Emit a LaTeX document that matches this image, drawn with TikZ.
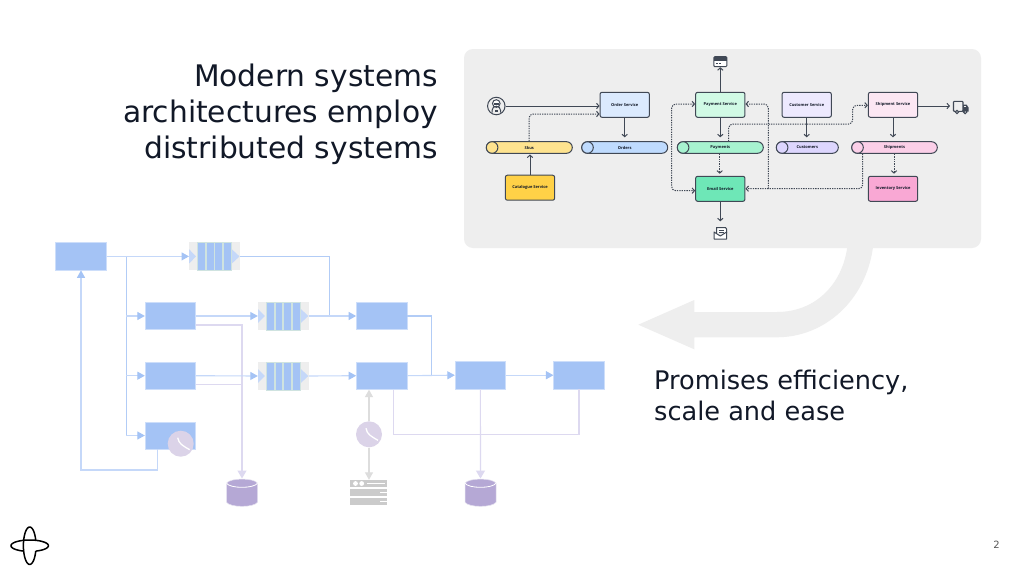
\documentclass[tikz,border=0pt]{standalone}
\usepackage{fontspec}
\setmainfont{DejaVu Sans}
\newfontfamily\smallfont{Open Sans}
\usetikzlibrary{arrows.meta,calc}
\definecolor{panel}{HTML}{EEEEEE}
\definecolor{ink}{HTML}{111827}
\definecolor{edge}{HTML}{404855}
\definecolor{lb}{HTML}{A4C3F5}
\definecolor{lbl}{HTML}{C5D8F9}
\definecolor{lav}{HTML}{DDD9F0}
\definecolor{cyl}{HTML}{B5A8D5}
\definecolor{clk}{HTML}{DBD3E8}
\definecolor{gr}{HTML}{DDDDDD}
\definecolor{srv}{HTML}{CBCBCB}
\definecolor{stripe}{HTML}{CFE3E0}
\tikzset{
  x=1pt,y=-1pt,
  svc/.style={draw=edge,line width=1pt,rounded corners=2pt,minimum width=49.3pt,minimum height=25pt,inner sep=0pt,font=\smallfont\bfseries\fontsize{4}{4}\selectfont,text=ink},
  cylb/.style={draw=edge,line width=1pt,rounded corners=5.8pt,minimum height=11.6pt,inner sep=0pt,font=\smallfont\bfseries\fontsize{4}{4}\selectfont,text=ink},
  solidc/.style={draw=edge,line width=1pt,-{Straight Barb[length=2.4pt,width=5.4pt]}},
  dashc/.style={draw=edge,line width=1pt,dash pattern=on 1.3pt off 1.1pt,rounded corners=4pt,-{Straight Barb[length=2.4pt,width=5.4pt]}},
  lowbox/.style={fill=lb,draw=lb!55,line width=0.5pt,minimum width=50.6pt,minimum height=27.4pt,inner sep=0pt},
  bluec/.style={draw=lbl,line width=1.1pt,-{Triangle[length=7.5pt,width=8pt,color=lb]}},
  blued/.style={draw=lb!85,line width=1.1pt},
  lavc/.style={draw=lav,line width=1.1pt},
  lavt/.style={draw=lav,line width=1.1pt,-{Triangle[length=8pt,width=9pt]}},
  grayc/.style={draw=gr,line width=1.2pt,-{Triangle[length=7.5pt,width=8pt]}},
  qbox/.style={minimum width=50.6pt,minimum height=28pt,inner sep=0pt,fill=panel},
}
% name, x0, x1, y centre, fill, cap fill, label
\newcommand{\cylnode}[7]{%
  \node[cylb,fill=#5,minimum width=#3pt-#2pt] (#1) at ({(#2+#3)/2},#4) {#7};
  \node[circle,draw=edge,line width=1pt,fill=#6,minimum size=11.6pt,inner sep=0pt] (#1cap) at ({#2+5.8},#4) {};
}
% name, centre x, y
\newcommand{\queuenode}[3]{%
  \node[qbox] (#1) at (#2,#3) {};
  \foreach \dx in {-13.3,-4.6,4,12.6}{\fill[fill=lb,draw=stripe,line width=0.3pt] ({#2+\dx-3.9},{#3-14}) rectangle ({#2+\dx+3.9},{#3+14});}
  \fill[lbl] ({#2-25.3},{#3-7}) -- ({#2-18.5},#3) -- ({#2-25.3},{#3+7}) -- cycle;
  \fill[lbl] ({#2+17.5},{#3-7}) -- ({#2+25},#3) -- ({#2+17.5},{#3+7}) -- cycle;
}
% name, x, y
\newcommand{\clocknode}[3]{%
  \node[circle,fill=clk,minimum size=26pt,inner sep=0pt] (#1) at (#2,#3) {};
  \draw[white,line width=1.3pt] ({#2-3},{#3-6}) .. controls ({#2-2},{#3+0}) and ({#2+2},{#3+2}) .. ({#2+9},{#3+6});
}
% name, x, y
\newcommand{\dbnode}[3]{%
  \node[minimum width=31pt,minimum height=28pt,inner sep=0pt] (#1) at (#2,#3) {};
  \fill[cyl,draw=cyl!35!white,line width=0.5pt] ({#2-15.5},{#3-9.5}) -- ({#2-15.5},{#3+9.5}) .. controls ({#2-12},{#3+15}) and ({#2+12},{#3+15}) .. ({#2+15.5},{#3+9.5}) -- ({#2+15.5},{#3-9.5}) .. controls ({#2+12},{#3-15}) and ({#2-12},{#3-15}) .. cycle;
  \draw[white,line width=0.8pt] ({#2-15.5},{#3-9.5}) .. controls ({#2-12},{#3-4}) and ({#2+12},{#3-4}) .. ({#2+15.5},{#3-9.5});
}
\begin{document}
\begin{tikzpicture}
\useasboundingbox (0,0) rectangle (1024,576);
\fill[white] (0,0) rectangle (1024,576);

% panel and big arrow
\fill[panel] (873,247) .. controls (866,300) and (825,337.3) .. (776.7,337.3) -- (694.3,337.3) -- (694.3,349.3) -- (638.3,324.7) -- (694.3,300) -- (694.3,312) -- (776.7,312) .. controls (815,312) and (842,285) .. (847.3,247) -- cycle;
\node[fill=panel,rounded corners=9pt,minimum width=517pt,minimum height=199pt,inner sep=0pt] (panelbox) at (722.5,148.5) {};

% titles
\node[align=right,anchor=east,text=ink,font=\fontsize{29.7}{36}\selectfont,inner sep=0pt] (title) at (438,114) {Modern systems\\architectures employ\\distributed systems};
\node[align=left,anchor=west,text=ink,font=\fontsize{25.6}{31}\selectfont,inner sep=0pt] (promise) at (654,395) {Promises efficiency,\\scale and ease};
\node[text=black!65,font=\fontsize{10}{10}\selectfont,inner sep=0pt] (pagenum) at (996.5,545) {2};

% logo
\coordinate (logo) at (29.7,545.7);
\draw[black,line width=1.5pt] plot[smooth,samples=50,domain=17:343] ({29.7+6.3*cos(\x)},{545.7+18.7*sin(\x)});
\draw[black,line width=1.5pt] plot[smooth,samples=50,domain=109:431] ({29.7+18.7*cos(\x)},{545.7+5.7*sin(\x)});

% ---- service diagram ----
\node[svc,fill={rgb,255:red,219;green,234;blue,254}] (order) at (624.7,104.8) {Order Service};
\node[svc,fill={rgb,255:red,255;green,209;blue,71}] (catalogue) at (530,187.7) {Catalogue Service};
\node[svc,fill={rgb,255:red,209;green,250;blue,229}] (payment) at (720.3,104.8) {Payment Service};
\node[svc,fill={rgb,255:red,110;green,231;blue,183}] (email) at (720.3,188.8) {Email Service};
\node[svc,fill={rgb,255:red,237;green,233;blue,254}] (customer) at (806.7,104.8) {Customer Service};
\node[svc,fill={rgb,255:red,252;green,231;blue,243}] (shipment) at (893,104.8) {Shipment Service};
\node[svc,fill={rgb,255:red,249;green,168;blue,212}] (inventory) at (893,188.8) {Inventory Service};
\definecolor{c1}{HTML}{FEE38F}\definecolor{c2}{HTML}{BFDBFE}\definecolor{c3}{HTML}{A7F3D0}\definecolor{c4}{HTML}{DDD6FE}\definecolor{c5}{HTML}{FBCFE8}
\cylnode{skus}{486.3}{572.3}{147.5}{c1}{c1}{Skus}
\cylnode{orders}{581.7}{667.7}{147.5}{c2}{c2}{Orders}
\cylnode{payments}{677.3}{763.3}{147.5}{c3}{c3}{Payments}
\cylnode{customers}{776.3}{838.3}{147.5}{c4}{c4}{Customers}
\cylnode{shipments}{851.7}{937.3}{147.5}{c5}{c5}{Shipments}

% icons
\node[circle,draw=edge,line width=1pt,fill=panel,minimum size=17.5pt,inner sep=0pt] (person) at (496.3,106) {};
\draw[edge,line width=1pt,fill=white] (496.3,103.5) circle (3.8pt);
\fill[edge] (494,102.5) rectangle (498.6,104.8);
\draw[edge,line width=1pt] (492,112.5) -- (492,110.5) arc[start angle=180,end angle=0,radius=4.3pt] -- (500.6,112.5);
\fill[edge] (494.5,109.6) rectangle (498.2,111.5);

\node[draw=edge,line width=1pt,rounded corners=1pt,fill=white,minimum width=13pt,minimum height=10pt,inner sep=0pt] (card) at (720.3,61.7) {};
\fill[edge] (714,57) rectangle (726.6,60.6);
\draw[edge,line width=0.8pt] (715.8,63.8) -- (718,63.8) (719.2,63.8) -- (721.4,63.8);

\node[minimum width=13pt,minimum height=12pt,inner sep=0pt] (mail) at (720.3,233) {};
\draw[edge,line width=1pt,fill=white] (716.5,233) -- (716.5,227.5) -- (725.5,227.5) -- (726.5,229) -- (726.5,233);
\draw[edge,line width=0.8pt] (718.5,230) -- (724,230) (718.5,232) -- (724,232);
\draw[edge,line width=1pt,fill=white,line join=round] (714,232) -- (714,239) -- (726.6,239) -- (726.6,232) -- (720.3,236) -- cycle;

\node[minimum width=15pt,minimum height=12pt,inner sep=0pt] (truck) at (960.7,107.3) {};
\draw[edge,line width=1.1pt,fill=panel,rounded corners=0.8pt] (953.5,101.3) rectangle (963,111.3);
\fill[edge] (963,104.5) -- (966.5,104.5) -- (968.5,107.5) -- (968.5,111.5) -- (963,111.5) -- cycle;
\fill[panel] (964.2,105.6) rectangle (966,107.4);
\draw[edge,line width=1.1pt,fill=white] (957,112) circle (1.7pt) (965.2,112) circle (1.7pt);

% solid connectors
\draw[solidc] (person.east) -- (order.west |- 0,106);
\draw[solidc] (catalogue.north) -- (catalogue.north |- 0,154.5);
\draw[solidc] (order.south) -- (order.south |- 0,137.3);
\draw[solidc] (payment.north) -- (card.south);
\draw[solidc] (payment.south) -- (payment.south |- 0,137.3);
\draw[solidc] (email.south) -- (email.south |- 0,221.3);
\draw[solidc] (customer.south) -- (customer.south |- 0,137.3);
\draw[solidc] (shipment.south) -- (shipment.south |- 0,137.3);
\draw[solidc] (shipment.east |- 0,106) -- (950,106);

% dashed connectors
\draw[dashc] (skus.north -| 529,0) -- (529,114) -- (order.west |- 0,114);
\draw[dashc] (payments.south -| 719.7,0) -- (719.7,173.7);
\draw[dashc] (shipments.south -| 894,0) -- (894,173.7);
\draw[dashc,{Straight Barb[length=2.4pt,width=5.4pt]}-{Straight Barb[length=2.4pt,width=5.4pt]}] (payment.west |- 0,104) -- (671.7,104) -- (671.7,190.7) -- (email.west |- 0,190.7);
\draw[dashc] (shipments.south -| 862.7,0) -- (862.7,188.7) -- (email.east |- 0,188.7);
\draw[dashc] (768.3,188.7) -- (768.3,104) -- (payment.east |- 0,104);
\draw[dashc] (payments.north -| 728.7,0) -- (728.7,124) -- (852.7,124) -- (852.7,105.3) -- (shipment.west |- 0,105.3);

% ---- faded diagram ----
\node[lowbox] (A) at (81,256.4) {};
\node[lowbox] (B) at (170.4,316) {};
\node[lowbox] (C) at (170.4,375.7) {};
\node[lowbox] (D) at (170.4,435.5) {};
\node[lowbox] (E) at (381.7,316) {};
\node[lowbox] (F) at (381.7,375.7) {};
\node[lowbox] (G) at (480.4,375.2) {};
\node[lowbox] (H) at (579,375.2) {};
\queuenode{q1}{214.5}{256.4}
\queuenode{q2}{283.3}{316}
\queuenode{q3}{283.3}{376}
\dbnode{dbone}{242}{492.7}
\dbnode{dbtwo}{480.5}{492.7}

% server icon
\node[minimum width=36.7pt,minimum height=25pt,inner sep=0pt] (server) at (368.7,492.5) {};
\fill[srv] (350.3,480) rectangle (387,487);
\fill[srv] (350.3,489) rectangle (387,496);
\fill[srv] (350.3,498) rectangle (387,505);
\fill[white] (355.5,483.5) circle (2.4pt) (361.7,483.5) circle (2.4pt);
\draw[white,line width=0.8pt] (367,483.5) -- (385,483.5) (380,492.5) -- (387,492.5) (380,501.5) -- (387,501.5);

% lavender routes
\draw[lavc] (F.south -| 393.3,0) -- (393.3,434.3) -- (579,434.3) -- (H.south);
\draw[lavt] (G.south) -- (dbtwo.north);
\draw[lavc] (C.east |- 0,384.3) -- (242,384.3);
\draw[lavt] (B.east |- 0,325) -- (242,325) -- (dbone.north -| 242,0);

% blue routes
\draw[blued] (A.east) -- (126.3,256.4) -- (126.3,435.5);
\draw[bluec] (A.east) -- (q1.west);
\draw[bluec] (126.3,316) -- (B.west);
\draw[bluec] (126.3,375.7) -- (C.west);
\draw[bluec] (126.3,435.5) -- (D.west);
\draw[bluec] (B.east) -- (q2.west);
\draw[bluec] (C.east) -- (q3.west);
\draw[blued] (q1.east) -- (329.3,256.4) -- (329.3,316);
\draw[bluec] (q2.east) -- (E.west);
\draw[bluec] (q3.east) -- (F.west);
\draw[blued] (E.east) -- (431.3,316) -- (431.3,375.2);
\draw[bluec] (F.east) -- (G.west);
\draw[bluec] (G.east) -- (H.west);
\draw[bluec] (D.south -| 157.3,0) -- (157.3,470) -- (81,470) -- (A.south);

% clocks and gray arrows
\clocknode{clockA}{180.7}{443.7}
\clocknode{clockB}{369}{434.3}
\draw[grayc] (clockB.north) -- (F.south -| clockB.north);
\draw[grayc] (clockB.south) -- (server.north -| clockB.south);
\end{tikzpicture}
\end{document}
